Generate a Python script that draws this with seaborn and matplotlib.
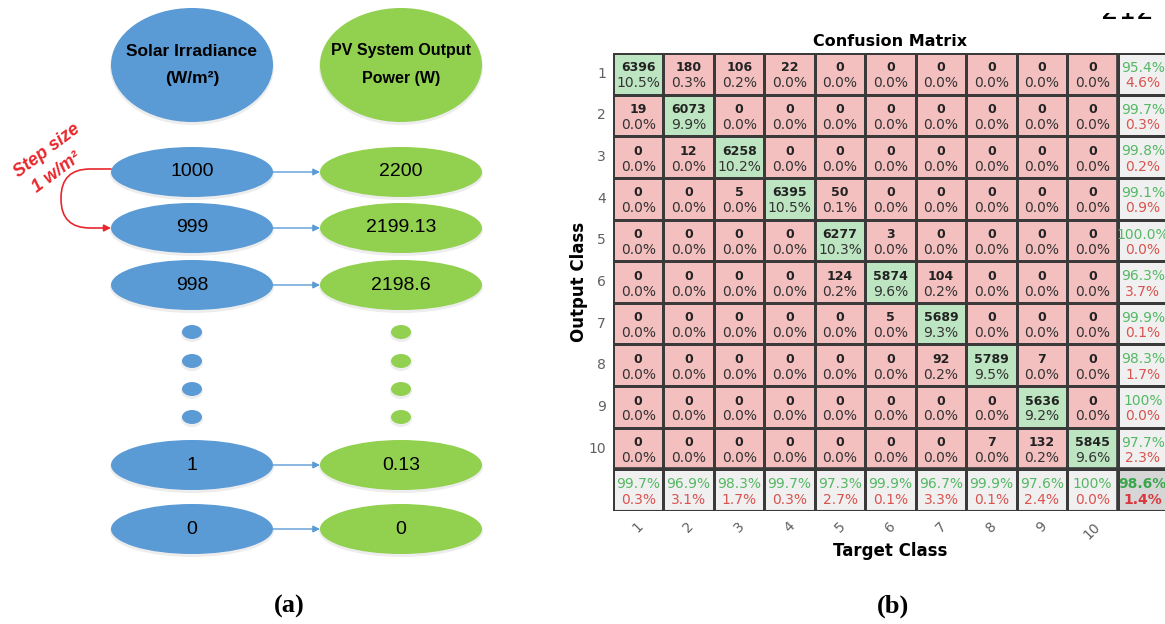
import numpy as np
import matplotlib
matplotlib.use("Agg")
import matplotlib.pyplot as plt
import seaborn as sns
from matplotlib.colors import ListedColormap
from matplotlib.patches import Ellipse, FancyArrowPatch, Rectangle

# (a) irradiance -> power lookup
irradiance_labels = ["1000", "999", "998", "1", "0"]
power_labels = ["2200", "2199.13", "2198.6", "0.13", "0"]

# (b) confusion matrix, rows = output class, columns = target class
classes = [str(i) for i in range(1, 11)]
counts = np.array([
    [6396, 180, 106, 22, 0, 0, 0, 0, 0, 0],
    [19, 6073, 0, 0, 0, 0, 0, 0, 0, 0],
    [0, 12, 6258, 0, 0, 0, 0, 0, 0, 0],
    [0, 0, 5, 6395, 50, 0, 0, 0, 0, 0],
    [0, 0, 0, 0, 6277, 3, 0, 0, 0, 0],
    [0, 0, 0, 0, 124, 5874, 104, 0, 0, 0],
    [0, 0, 0, 0, 0, 5, 5689, 0, 0, 0],
    [0, 0, 0, 0, 0, 0, 92, 5789, 7, 0],
    [0, 0, 0, 0, 0, 0, 0, 0, 5636, 0],
    [0, 0, 0, 0, 0, 0, 0, 7, 132, 5845],
])

BLUE = "#5B9BD5"
GREEN = "#92D050"
SANS = ["Liberation Sans", "DejaVu Sans"]


def pct(v):
    return "100%" if v == 100 else f"{v:.1f}%"


def blob(ax, x, y, w, h, col):
    # soft drop shadow like the office shapes in the original
    ax.add_patch(Ellipse((x, y + 2), w + 2, h + 2, color="black", alpha=0.07, ec="none"))
    ax.add_patch(Ellipse((x, y), w, h, color=col, ec="none"))


def draw_lookup(ax):
    """Left panel: flow of irradiance steps to PV output."""
    xb, xg = 192, 401
    w = 162
    for x, col, l1, l2, fs in [(xb, BLUE, "Solar Irradiance", "(W/m²)", 12.5),
                               (xg, GREEN, "PV System Output", "Power (W)", 11.5)]:
        blob(ax, x, 65, w, 114, col)
        ax.text(x, 51, l1, ha="center", va="center", fontsize=fs,
                family=SANS, fontweight="bold")
        ax.text(x, 79, l2, ha="center", va="center", fontsize=fs,
                family=SANS, fontweight="bold")

    row_y = [172, 228, 285, 465, 529]
    for y, a, b in zip(row_y, irradiance_labels, power_labels):
        blob(ax, xb, y, w, 50, BLUE)
        blob(ax, xg, y, w, 50, GREEN)
        ax.text(xb, y, a, ha="center", va="center", fontsize=14, family=SANS)
        ax.text(xg, y, b, ha="center", va="center", fontsize=14, family=SANS)
        ax.add_patch(FancyArrowPatch((xb + w / 2, y), (xg - w / 2, y),
                                     arrowstyle="-|>", mutation_scale=10,
                                     color=BLUE, lw=1, shrinkA=0, shrinkB=0))

    for y in [332, 361, 389, 417]:
        blob(ax, xb, y, 20, 14, BLUE)
        blob(ax, xg, y, 20, 14, GREEN)

    # step arrow 1000 -> 999
    ax.add_patch(FancyArrowPatch((xb - w / 2, row_y[0] - 3), (xb - w / 2, row_y[1]),
                                 connectionstyle="arc,angleA=180,angleB=180,armA=50,armB=50,rad=29",
                                 arrowstyle="-|>", mutation_scale=10, color="#E8262B",
                                 lw=1.2, shrinkA=0, shrinkB=0))
    red = dict(color="#E8262B", fontsize=13, fontweight="bold", fontstyle="italic",
               family=SANS, rotation=37, rotation_mode="anchor",
               ha="center", va="center")
    ax.text(47, 151, "Step size", **red)
    ax.text(57, 173, "1 w/m²", **red)

    ax.text(289, 606, "(a)", ha="center", va="center", fontsize=19,
            fontweight="bold", family=["Liberation Serif", "DejaVu Serif"])


def draw_confusion(ax):
    """Right panel: confusion matrix with summary row and column."""
    n = len(classes)
    total = counts.sum()
    diag = np.diag(counts)
    row_acc = diag / counts.sum(axis=1) * 100
    col_acc = diag / counts.sum(axis=0) * 100
    overall = diag.sum() / total * 100

    kind = np.zeros((n + 1, n + 1))
    kind[np.arange(n), np.arange(n)] = 1
    kind[n, :] = 2
    kind[:, n] = 2
    kind[n, n] = 3
    cmap = ListedColormap(["#F4BFBF", "#BDE5C1", "#F0F0F0", "#D6D6D6"])

    sns.heatmap(kind, ax=ax, cmap=cmap, vmin=-0.5, vmax=3.5, cbar=False,
                linewidths=1.0, linecolor="#3A3A3A",
                xticklabels=classes + [""], yticklabels=classes + [""])
    ax.axvline(n, color="#3A3A3A", lw=2.6)
    ax.axhline(n, color="#3A3A3A", lw=2.6)
    ax.axhline(0, color="#3A3A3A", lw=1.5)
    ax.axhline(n + 1, color="#3A3A3A", lw=1.5)
    ax.axvline(0, color="#3A3A3A", lw=1.5)

    for i in range(n):
        for j in range(n):
            ax.text(j + 0.5, i + 0.36, str(counts[i, j]), ha="center", va="center",
                    fontsize=9, fontweight="bold", color="#222222")
            ax.text(j + 0.5, i + 0.73, f"{counts[i, j] / total * 100:.1f}%",
                    ha="center", va="center", fontsize=10, color="#333333")
    g, r = "#55B865", "#D9534F"
    for i in range(n):
        ax.text(n + 0.5, i + 0.36, pct(row_acc[i]), ha="center", va="center",
                fontsize=10, color=g)
        ax.text(n + 0.5, i + 0.73, pct(100 - row_acc[i]), ha="center", va="center",
                fontsize=10, color=r)
    for j in range(n):
        ax.text(j + 0.5, n + 0.36, pct(col_acc[j]), ha="center", va="center",
                fontsize=10, color=g)
        ax.text(j + 0.5, n + 0.73, pct(100 - col_acc[j]), ha="center", va="center",
                fontsize=10, color=r)
    ax.text(n + 0.5, n + 0.36, pct(overall), ha="center", va="center",
            fontsize=10, color="#3AA64C", fontweight="bold")
    ax.text(n + 0.5, n + 0.73, pct(100 - overall), ha="center", va="center",
            fontsize=10, color="#D9363E", fontweight="bold")

    ax.tick_params(length=0, labelsize=10, labelcolor="#606060")
    ax.tick_params(axis="x", pad=6)
    ax.tick_params(axis="y", pad=5)
    plt.setp(ax.get_xticklabels(), rotation=45)
    plt.setp(ax.get_yticklabels(), rotation=0)
    ax.set_title("Confusion Matrix", fontsize=11.5, fontweight="bold", pad=5)
    ax.set_xlabel("Target Class", fontsize=12, fontweight="bold", labelpad=0)
    ax.set_ylabel("Output Class", fontsize=12, fontweight="bold", labelpad=0)


def main():
    fig = plt.figure(figsize=(11.65, 6.24), dpi=100)
    overlay = fig.add_axes([0, 0, 1, 1])
    overlay.set_xlim(0, 1165)
    overlay.set_ylim(624, 0)
    overlay.axis("off")
    draw_lookup(overlay)

    ax = fig.add_axes([613 / 1165, (624 - 511) / 624, 555 / 1165, 458 / 624])
    draw_confusion(ax)

    overlay.text(893, 606, "(b)", ha="center", va="center", fontsize=19,
                 fontweight="bold", family=["Liberation Serif", "DejaVu Serif"])
    # page number, mostly lost when the page was cropped
    overlay.text(1127, 19, "212", ha="center", va="baseline", fontsize=20,
                 color="black", zorder=3)
    overlay.add_patch(Rectangle((1085, -2), 80, 15, color="white", ec="none", zorder=4))

    fig.savefig("out.png", dpi=100)
    plt.close(fig)


if __name__ == "__main__":
    main()
